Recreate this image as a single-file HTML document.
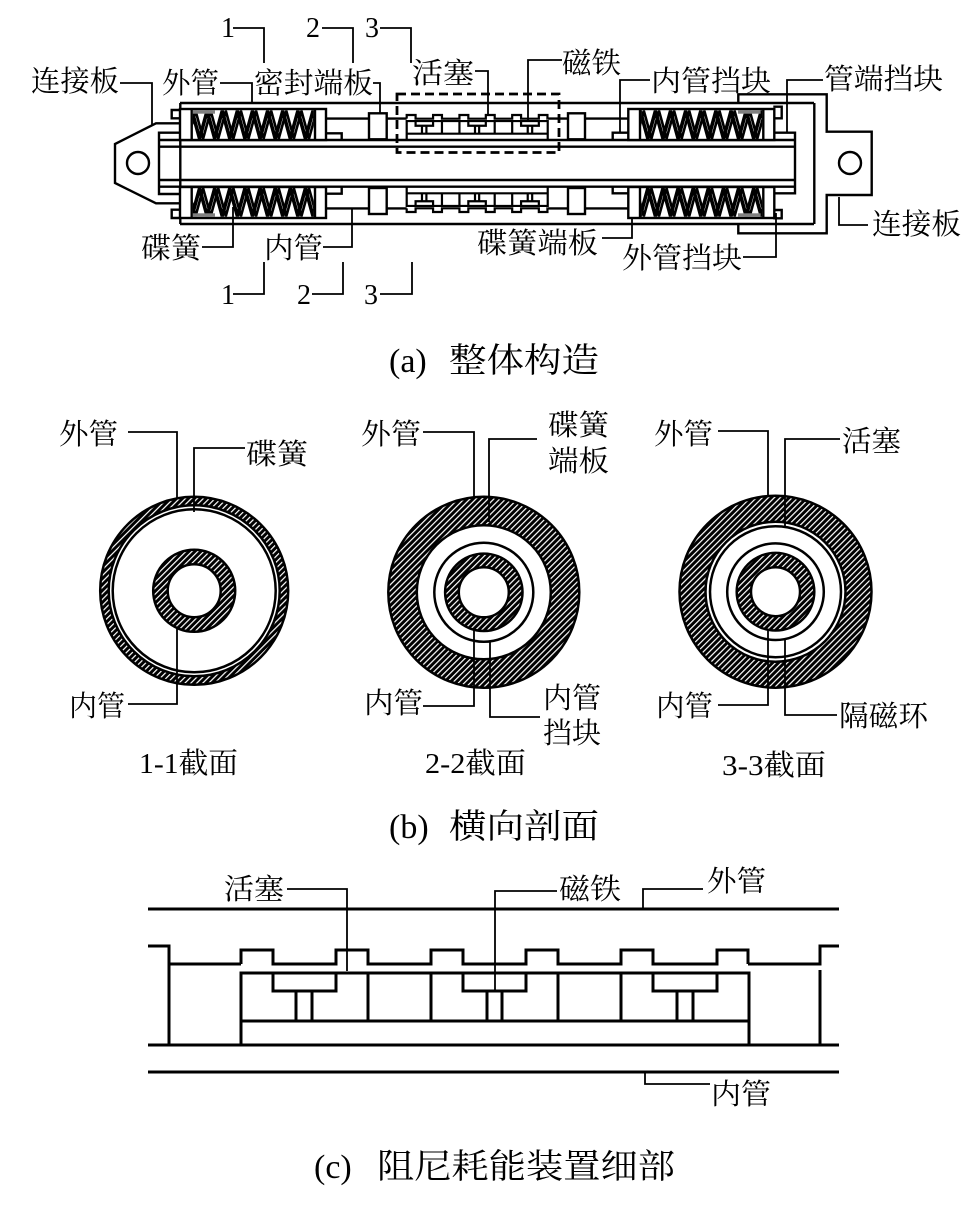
<!DOCTYPE html>
<html><head><meta charset="utf-8">
<style>
html,body{margin:0;padding:0;background:#fff;}
svg{display:block}
.t{font-family:"Liberation Serif","Noto Serif CJK SC",serif;font-size:29px;fill:#000}
.n{font-family:"Liberation Serif",serif;font-size:28px;fill:#000}
.cap{font-family:"Liberation Serif","Noto Serif CJK SC",serif;font-size:34px;fill:#000}
.ns *{vector-effect:non-scaling-stroke}
</style></head>
<body>
<svg width="966" height="1206" viewBox="0 0 966 1206" xmlns="http://www.w3.org/2000/svg">
<defs>
<pattern id="h" width="4.2" height="4.2" patternUnits="userSpaceOnUse" patternTransform="rotate(45)">
<rect width="4.2" height="4.2" fill="#000"/><rect x="0" y="0" width="1.2" height="4.2" fill="#fff"/>
</pattern>
<clipPath id="sc"><rect x="192.8" y="110.2" width="121.1" height="28.8"/></clipPath>
</defs>

<!-- ================= (a) ================= -->
<g fill="none" stroke="#000" stroke-width="2.4">
<line x1="180" y1="103" x2="814" y2="103"/>
<line x1="180" y1="224" x2="814" y2="224"/>
<line x1="180.3" y1="103" x2="180.3" y2="224"/>
<line x1="814.3" y1="103" x2="814.3" y2="224"/>
<line x1="159" y1="140" x2="795" y2="140"/>
<line x1="159" y1="146.7" x2="795" y2="146.7"/>
<line x1="159" y1="180" x2="795" y2="180"/>
<line x1="159" y1="186.7" x2="795" y2="186.7"/>
<polyline points="180,132.7 159,132.7 159,194 180,194"/>
<polyline points="180,123.3 156,123.3 115,144 115,183 156,203.3 180,203.3"/>
<circle cx="138" cy="163" r="11"/>
<polyline points="180,110 171.7,110 171.7,118.3 180,118.3"/>
<polyline points="180,209.7 171.7,209.7 171.7,218 180,218"/>
<polyline points="326,133.3 341.7,133.3 341.7,140"/>
<polyline points="326,193.7 341.7,193.7 341.7,187"/>
<line x1="326" y1="118.6" x2="406.7" y2="118.6"/>
<line x1="547.9" y1="118.6" x2="628.3" y2="118.6"/>
<line x1="326" y1="208.4" x2="406.7" y2="208.4"/>
<line x1="547.9" y1="208.4" x2="628.3" y2="208.4"/>
<polyline points="628.3,132.7 612.7,132.7 612.7,140"/>
<polyline points="628.3,193.3 612.7,193.3 612.7,186.7"/>
<polyline points="773.3,106.7 781.7,106.7 781.7,118.3 773.3,118.3"/>
<polyline points="773.3,210 781.7,210 781.7,218.3 773.3,218.3"/>
<polyline points="773.3,132.7 795,132.7 795,193.3 773.3,193.3"/>
<polyline points="738.3,103 738.3,94.3 826.7,94.3 826.7,131.7 871.7,131.7 871.7,195 826.7,195 826.7,233.3 738.3,233.3 738.3,224"/>
<circle cx="850" cy="163" r="11"/>
</g>

<!-- springs -->
<g stroke="#000" fill="none">
 <g>
  <rect x="180" y="109" width="146" height="31" fill="#fff" stroke-width="2.4"/>
  <g clip-path="url(#sc)">
   <polyline stroke-width="3.6" points="184.4,138.5 192,111 199.56,138.5 207.13,111 214.69,138.5 222.25,111 229.81,138.5 237.38,111 244.94,138.5 252.5,111 260.06,138.5 267.63,111 275.19,138.5 282.75,111 290.31,138.5 297.88,111 305.44,138.5 313,111 320.6,138.5"/>
   <polyline stroke-width="2.6" transform="translate(3.6,0)" points="184.4,138.5 192,111 199.56,138.5 207.13,111 214.69,138.5 222.25,111 229.81,138.5 237.38,111 244.94,138.5 252.5,111 260.06,138.5 267.63,111 275.19,138.5 282.75,111 290.31,138.5 297.88,111 305.44,138.5 313,111 320.6,138.5"/>
  </g>
  <line x1="191.7" y1="109" x2="191.7" y2="140" stroke-width="2.4"/>
  <line x1="315" y1="109" x2="315" y2="140" stroke-width="2.4"/>
 </g>
 <g transform="translate(0,327) scale(1,-1)">
  <rect x="180" y="109" width="146" height="31" fill="#fff" stroke-width="2.4"/>
  <g clip-path="url(#sc)">
   <polyline stroke-width="3.6" points="184.4,138.5 192,111 199.56,138.5 207.13,111 214.69,138.5 222.25,111 229.81,138.5 237.38,111 244.94,138.5 252.5,111 260.06,138.5 267.63,111 275.19,138.5 282.75,111 290.31,138.5 297.88,111 305.44,138.5 313,111 320.6,138.5"/>
   <polyline stroke-width="2.6" transform="translate(3.6,0)" points="184.4,138.5 192,111 199.56,138.5 207.13,111 214.69,138.5 222.25,111 229.81,138.5 237.38,111 244.94,138.5 252.5,111 260.06,138.5 267.63,111 275.19,138.5 282.75,111 290.31,138.5 297.88,111 305.44,138.5 313,111 320.6,138.5"/>
  </g>
  <line x1="191.7" y1="109" x2="191.7" y2="140" stroke-width="2.4"/>
  <line x1="315" y1="109" x2="315" y2="140" stroke-width="2.4"/>
 </g>
 <g transform="translate(448.3,0)">
  <rect x="180" y="109" width="146" height="31" fill="#fff" stroke-width="2.4"/>
  <g clip-path="url(#sc)">
   <polyline stroke-width="3.6" points="184.4,138.5 192,111 199.56,138.5 207.13,111 214.69,138.5 222.25,111 229.81,138.5 237.38,111 244.94,138.5 252.5,111 260.06,138.5 267.63,111 275.19,138.5 282.75,111 290.31,138.5 297.88,111 305.44,138.5 313,111 320.6,138.5"/>
   <polyline stroke-width="2.6" transform="translate(3.6,0)" points="184.4,138.5 192,111 199.56,138.5 207.13,111 214.69,138.5 222.25,111 229.81,138.5 237.38,111 244.94,138.5 252.5,111 260.06,138.5 267.63,111 275.19,138.5 282.75,111 290.31,138.5 297.88,111 305.44,138.5 313,111 320.6,138.5"/>
  </g>
  <line x1="191.7" y1="109" x2="191.7" y2="140" stroke-width="2.4"/>
  <line x1="315" y1="109" x2="315" y2="140" stroke-width="2.4"/>
 </g>
 <g transform="translate(448.3,327) scale(1,-1)">
  <rect x="180" y="109" width="146" height="31" fill="#fff" stroke-width="2.4"/>
  <g clip-path="url(#sc)">
   <polyline stroke-width="3.6" points="184.4,138.5 192,111 199.56,138.5 207.13,111 214.69,138.5 222.25,111 229.81,138.5 237.38,111 244.94,138.5 252.5,111 260.06,138.5 267.63,111 275.19,138.5 282.75,111 290.31,138.5 297.88,111 305.44,138.5 313,111 320.6,138.5"/>
   <polyline stroke-width="2.6" transform="translate(3.6,0)" points="184.4,138.5 192,111 199.56,138.5 207.13,111 214.69,138.5 222.25,111 229.81,138.5 237.38,111 244.94,138.5 252.5,111 260.06,138.5 267.63,111 275.19,138.5 282.75,111 290.31,138.5 297.88,111 305.44,138.5 313,111 320.6,138.5"/>
  </g>
  <line x1="191.7" y1="109" x2="191.7" y2="140" stroke-width="2.4"/>
  <line x1="315" y1="109" x2="315" y2="140" stroke-width="2.4"/>
 </g>
</g>
<g fill="#808080">
<rect x="192.8" y="110.1" width="22.2" height="3.6"/>
<rect x="192.8" y="213.3" width="22.2" height="3.6"/>
<rect x="738" y="110.1" width="22.6" height="3.6"/>
<rect x="738" y="213.3" width="22.6" height="3.6"/>
</g>

<!-- pistons (a) -->
<g class="ns" fill="none" stroke="#000" stroke-width="2.2">
 <g transform="translate(406.7,115) scale(0.2776,0.263) translate(-241,-950)">
  <polyline points="241,964 241,950 273,950 273,964 336,964 336,950 368,950 368,964 431,964 431,950 463,950 463,964 526,964 526,950 558,950 558,964 621,964 621,950 653,950 653,964 717,964 717,950 748,950 748,964 749,964"/>
  <polyline points="241,1045 241,973 749,973 749,1045"/>
  <line x1="241" y1="1021" x2="749" y2="1021"/>
  <line x1="368" y1="973" x2="368" y2="1021"/><line x1="431" y1="973" x2="431" y2="1021"/>
  <line x1="558" y1="973" x2="558" y2="1021"/><line x1="621" y1="973" x2="621" y2="1021"/>
  <polyline points="273,973 273,991 336,991 336,973"/>
  <polyline points="463,973 463,991 526,991 526,973"/>
  <polyline points="653,973 653,991 717,991 717,973"/>
  <line x1="296" y1="991" x2="296" y2="1021"/><line x1="312" y1="991" x2="312" y2="1021"/>
  <line x1="487" y1="991" x2="487" y2="1021"/><line x1="502" y1="991" x2="502" y2="1021"/>
  <line x1="677" y1="991" x2="677" y2="1021"/><line x1="693" y1="991" x2="693" y2="1021"/>
 </g>
 <g transform="translate(0,327) scale(1,-1)">
 <g transform="translate(406.7,115) scale(0.2776,0.263) translate(-241,-950)">
  <polyline points="241,964 241,950 273,950 273,964 336,964 336,950 368,950 368,964 431,964 431,950 463,950 463,964 526,964 526,950 558,950 558,964 621,964 621,950 653,950 653,964 717,964 717,950 748,950 748,964 749,964"/>
  <polyline points="241,1045 241,973 749,973 749,1045"/>
  <line x1="241" y1="1021" x2="749" y2="1021"/>
  <line x1="368" y1="973" x2="368" y2="1021"/><line x1="431" y1="973" x2="431" y2="1021"/>
  <line x1="558" y1="973" x2="558" y2="1021"/><line x1="621" y1="973" x2="621" y2="1021"/>
  <polyline points="273,973 273,991 336,991 336,973"/>
  <polyline points="463,973 463,991 526,991 526,973"/>
  <polyline points="653,973 653,991 717,991 717,973"/>
  <line x1="296" y1="991" x2="296" y2="1021"/><line x1="312" y1="991" x2="312" y2="1021"/>
  <line x1="487" y1="991" x2="487" y2="1021"/><line x1="502" y1="991" x2="502" y2="1021"/>
  <line x1="677" y1="991" x2="677" y2="1021"/><line x1="693" y1="991" x2="693" y2="1021"/>
 </g>
 </g>
</g>

<g fill="#fff" stroke="#000" stroke-width="2.4">
<rect x="369" y="113.3" width="17.7" height="26"/>
<rect x="568" y="113.3" width="17" height="26"/>
<rect x="369" y="188" width="17.7" height="26"/>
<rect x="568" y="188" width="17" height="26"/>
</g>
<rect x="397" y="94" width="162" height="58.5" fill="none" stroke="#000" stroke-width="2.8" stroke-dasharray="9 5"/>

<g fill="none" stroke="#000" stroke-width="1.8">
<polyline points="120,83 152,83 152,125"/>
<polyline points="220,83 252,83 252,103"/>
<polyline points="373,83 380,83 380,113"/>
<polyline points="233,28 264,28 264,63"/>
<polyline points="322,28 353,28 353,63"/>
<polyline points="380,28 411,28 411,63"/>
<polyline points="475,71 488,71 488,115"/>
<polyline points="562,60 528,60 528,122"/>
<polyline points="650,80 620,80 620,133"/>
<polyline points="823,80 787,80 787,133"/>
<polyline points="202,247 233,247 233,207"/>
<polyline points="323,247 352,247 352,208"/>
<polyline points="233,294 264,294 264,262"/>
<polyline points="312,294 343,294 343,262"/>
<polyline points="380,294 412,294 412,262"/>
<polyline points="602,238 632,238 632,219"/>
<polyline points="743,257 776,257 776,213"/>
<polyline points="868,225 839,225 839,197"/>
</g>

<text class="n" x="221" y="37">1</text>
<text class="n" x="306" y="37">2</text>
<text class="n" x="365" y="37">3</text>
<text class="n" x="221" y="304">1</text>
<text class="n" x="297" y="304">2</text>
<text class="n" x="364" y="304">3</text>
<text class="t" x="31" y="91" textLength="88" lengthAdjust="spacingAndGlyphs">连接板</text>
<text class="t" x="162" y="93" textLength="57" lengthAdjust="spacingAndGlyphs">外管</text>
<text class="t" x="254" y="93" textLength="119" lengthAdjust="spacingAndGlyphs">密封端板</text>
<text class="t" x="412" y="83" textLength="62" lengthAdjust="spacingAndGlyphs">活塞</text>
<text class="t" x="562" y="73" textLength="59" lengthAdjust="spacingAndGlyphs">磁铁</text>
<text class="t" x="651" y="91" textLength="120" lengthAdjust="spacingAndGlyphs">内管挡块</text>
<text class="t" x="824" y="89" textLength="119" lengthAdjust="spacingAndGlyphs">管端挡块</text>
<text class="t" x="141" y="258" textLength="60" lengthAdjust="spacingAndGlyphs">碟簧</text>
<text class="t" x="264" y="258" textLength="59" lengthAdjust="spacingAndGlyphs">内管</text>
<text class="t" x="477" y="253" textLength="121" lengthAdjust="spacingAndGlyphs">碟簧端板</text>
<text class="t" x="622" y="268" textLength="120" lengthAdjust="spacingAndGlyphs">外管挡块</text>
<text class="t" x="872" y="234" textLength="89" lengthAdjust="spacingAndGlyphs">连接板</text>
<text class="cap" x="389" y="372">(a)</text>
<text class="cap" x="449" y="372" textLength="150" lengthAdjust="spacingAndGlyphs">整体构造</text>

<!-- ================= (b) ================= -->
<g stroke="#000" stroke-width="2.5">
<circle cx="194.2" cy="590.8" r="94" fill="url(#h)"/>
<circle cx="194.2" cy="590.8" r="85.5" fill="#fff"/>
<circle cx="194.2" cy="590.8" r="81.5" fill="none"/>
<circle cx="194.2" cy="590.8" r="41" fill="url(#h)"/>
<circle cx="194.2" cy="590.8" r="26.5" fill="#fff"/>
<circle cx="483.8" cy="592.3" r="95.5" fill="url(#h)"/>
<circle cx="483.8" cy="592.3" r="67" fill="#fff"/>
<circle cx="483.8" cy="592.3" r="49.5" fill="none"/>
<circle cx="483.8" cy="592.3" r="38.7" fill="url(#h)"/>
<circle cx="483.8" cy="592.3" r="25" fill="#fff"/>
<circle cx="775.5" cy="591.7" r="96" fill="url(#h)"/>
<circle cx="775.5" cy="591.7" r="70" fill="#fff"/>
<circle cx="775.5" cy="591.7" r="65.5" fill="none"/>
<circle cx="775.5" cy="591.7" r="48.3" fill="none"/>
<circle cx="775.5" cy="591.7" r="38.8" fill="url(#h)"/>
<circle cx="775.5" cy="591.7" r="24.5" fill="#fff"/>
</g>
<g fill="none" stroke="#000" stroke-width="1.8">
<polyline points="128,432 177,432 177,499"/>
<polyline points="245,448 194,448 194,512"/>
<polyline points="128,704 177,704 177,628"/>
<polyline points="423,432 474,432 474,498"/>
<polyline points="537,439 489,439 489,522"/>
<polyline points="423,706 474,706 474,628"/>
<polyline points="540,717 490,717 490,642"/>
<polyline points="718,431 768,431 768,497"/>
<polyline points="840,439 785,439 785,526"/>
<polyline points="718,705 768,705 768,630"/>
<polyline points="837,715 785,715 785,640"/>
</g>
<text class="t" x="59" y="444" textLength="59" lengthAdjust="spacingAndGlyphs">外管</text>
<text class="t" x="246" y="464" textLength="62" lengthAdjust="spacingAndGlyphs">碟簧</text>
<text class="t" x="69" y="716" textLength="56" lengthAdjust="spacingAndGlyphs">内管</text>
<text class="t" x="139" y="773" textLength="99" lengthAdjust="spacingAndGlyphs">1-1截面</text>
<text class="t" x="361" y="444" textLength="60" lengthAdjust="spacingAndGlyphs">外管</text>
<text class="t" x="548" y="435" textLength="61" lengthAdjust="spacingAndGlyphs">碟簧</text>
<text class="t" x="548" y="471" textLength="61" lengthAdjust="spacingAndGlyphs">端板</text>
<text class="t" x="364" y="713" textLength="59" lengthAdjust="spacingAndGlyphs">内管</text>
<text class="t" x="543" y="708" textLength="58" lengthAdjust="spacingAndGlyphs">内管</text>
<text class="t" x="543" y="743" textLength="58" lengthAdjust="spacingAndGlyphs">挡块</text>
<text class="t" x="425" y="773" textLength="101" lengthAdjust="spacingAndGlyphs">2-2截面</text>
<text class="t" x="654" y="444" textLength="59" lengthAdjust="spacingAndGlyphs">外管</text>
<text class="t" x="842" y="451" textLength="59" lengthAdjust="spacingAndGlyphs">活塞</text>
<text class="t" x="656" y="716" textLength="57" lengthAdjust="spacingAndGlyphs">内管</text>
<text class="t" x="839" y="726" textLength="89" lengthAdjust="spacingAndGlyphs">隔磁环</text>
<text class="t" x="722" y="775" textLength="104" lengthAdjust="spacingAndGlyphs">3-3截面</text>
<text class="cap" x="389" y="838">(b)</text>
<text class="cap" x="449" y="838" textLength="150" lengthAdjust="spacingAndGlyphs">横向剖面</text>

<!-- ================= (c) ================= -->
<g fill="none" stroke="#000" stroke-width="3">
<line x1="148" y1="909" x2="839" y2="909"/>
<line x1="148" y1="1045" x2="839" y2="1045"/>
<line x1="148" y1="1072" x2="839" y2="1072"/>
<polyline points="148,946 169,946 169,964 241,964"/>
<line x1="169" y1="964" x2="169" y2="1045"/>
<polyline points="748,964 820,964 820,946 839,946"/>
<line x1="820" y1="970" x2="820" y2="1045"/>
<polyline points="241,964 241,950 273,950 273,964 336,964 336,950 368,950 368,964 431,964 431,950 463,950 463,964 526,964 526,950 558,950 558,964 621,964 621,950 653,950 653,964 717,964 717,950 748,950 748,964"/>
<polyline points="241,1045 241,973 749,973 749,1045"/>
<line x1="241" y1="1021" x2="749" y2="1021"/>
<line x1="368" y1="973" x2="368" y2="1021"/><line x1="431" y1="973" x2="431" y2="1021"/>
<line x1="558" y1="973" x2="558" y2="1021"/><line x1="621" y1="973" x2="621" y2="1021"/>
<polyline points="273,973 273,991 336,991 336,973"/>
<polyline points="463,973 463,991 526,991 526,973"/>
<polyline points="653,973 653,991 717,991 717,973"/>
<line x1="296" y1="991" x2="296" y2="1021"/><line x1="312" y1="991" x2="312" y2="1021"/>
<line x1="487" y1="991" x2="487" y2="1021"/><line x1="502" y1="991" x2="502" y2="1021"/>
<line x1="677" y1="991" x2="677" y2="1021"/><line x1="693" y1="991" x2="693" y2="1021"/>
</g>
<g fill="none" stroke="#000" stroke-width="1.8">
<polyline points="287,889 347,889 347,971"/>
<polyline points="557,891 495,891 495,990"/>
<polyline points="703,889 643,889 643,908"/>
<polyline points="645,1073 645,1084 710,1084"/>
</g>
<text class="t" x="224" y="899" textLength="60" lengthAdjust="spacingAndGlyphs">活塞</text>
<text class="t" x="559" y="899" textLength="62" lengthAdjust="spacingAndGlyphs">磁铁</text>
<text class="t" x="707" y="891" textLength="59" lengthAdjust="spacingAndGlyphs">外管</text>
<text class="t" x="711" y="1104" textLength="60" lengthAdjust="spacingAndGlyphs">内管</text>
<text class="cap" x="314" y="1178">(c)</text>
<text class="cap" x="377" y="1178" textLength="298" lengthAdjust="spacingAndGlyphs">阻尼耗能装置细部</text>
</svg>
</body></html>
